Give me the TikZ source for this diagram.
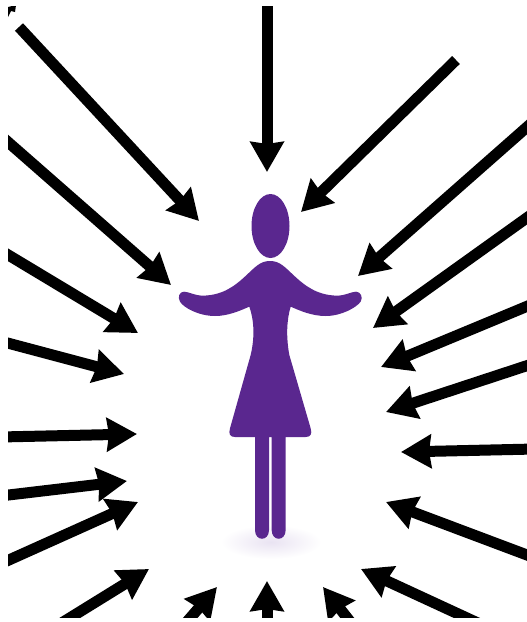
\documentclass[tikz,border=0pt]{standalone}
\usetikzlibrary{arrows.meta}
\definecolor{figure purple}{HTML}{5A278F}
\definecolor{shadow lilac}{HTML}{E9E3F2}
\begin{document}
\begin{tikzpicture}[x=1pt,y=-1pt]
        \tikzset{big arrow/.style={line width=11pt,-{Stealth[length=30pt,width=33pt,inset=2pt]}},
          woman/.style={fill=figure purple,draw=none}}
        \useasboundingbox (0,0) rectangle (527,622);
        \begin{scope}
          \clip (8,6) rectangle (527,617);
          \foreach \name/\tailx/\taily/\tipx/\tipy in {
              a/19/27/199/221, b/267/0/267/172, c/456/60/301/212, d/0/135/171/285,
              e/535/120/358/276, f/0/250/138/333, g/535/212/373/328, h/0/341/124/374,
              i/535/303/381/367, j/535/363/386/412, k/0/437/137/434, l/535/449/401/452,
              m/0/496/127/481, n/0/564/138/502, o/535/558/386/502, p/60/624/149/569,
              q/185/624/217/587, r/267/624/267/581, s/352/624/323/587, t/480/624/361/569} {
            \coordinate (tail \name) at (\tailx,\taily);
            \coordinate (tip \name) at (\tipx,\tipy);
            \draw[big arrow] (tail \name) -- (tip \name);
          }
          \fill (8,7) -- (16,5) -- (15,12) -- (11,11) -- (8,17) -- cycle;
        \end{scope}
        \shade[inner color=shadow lilac,outer color=white] (271,542) ellipse (50pt and 17pt);
        \fill[woman] (270.5,226) ellipse (19pt and 32pt);
        \begin{scope}[shift={(160,180)},scale=1/3]
          \fill[woman] (330,243) .. controls (300,243) and (285,262) .. (262,283)
            .. controls (225,318) and (190,345) .. (130,347)
            .. controls (105,347) and (85,335) .. (72,335)
            .. controls (58,335) and (52,352) .. (60,365)
            .. controls (70,382) and (115,408) .. (165,408)
            .. controls (205,408) and (240,392) .. (268,380)
            .. controls (282,420) and (285,470) .. (272,525)
            -- (210,745) .. controls (205,762) and (210,771) .. (225,771)
            -- (285,771) -- (285,1050)
            .. controls (285,1085) and (327,1085) .. (327,1050)
            -- (327,771) -- (335,771) -- (335,1050)
            .. controls (335,1085) and (377,1085) .. (377,1050)
            -- (377,771) -- (437,771)
            .. controls (452,771) and (457,762) .. (452,745)
            -- (388,525) .. controls (378,470) and (380,420) .. (392,380)
            .. controls (420,392) and (455,408) .. (497,408)
            .. controls (545,408) and (590,382) .. (602,365)
            .. controls (610,352) and (602,335) .. (588,335)
            .. controls (575,335) and (555,347) .. (530,347)
            .. controls (470,345) and (435,318) .. (398,283)
            .. controls (375,262) and (360,243) .. (330,243) -- cycle;
        \end{scope}
      \end{tikzpicture}
\end{document}
